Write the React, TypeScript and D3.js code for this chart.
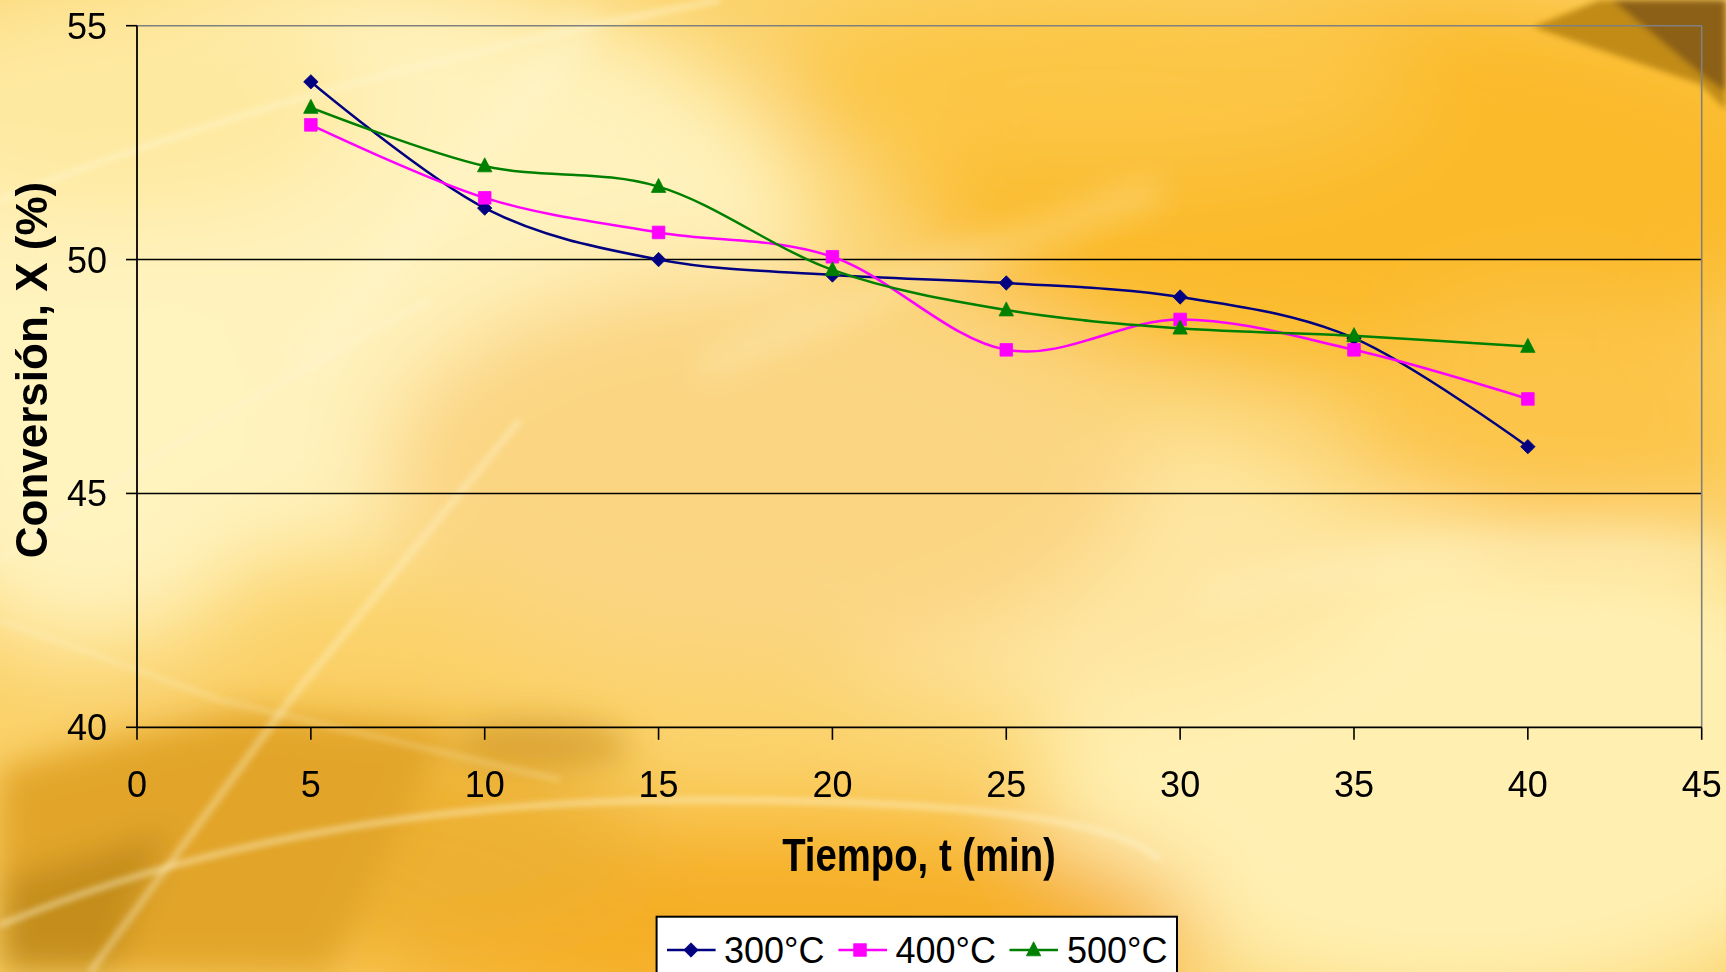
import React from "react";
import * as d3 from "d3";

// Reaction time (min) and conversion (%) for each temperature
const times = [5, 10, 15, 20, 25, 30, 35, 40];
const conv300 = [53.8, 51.1, 50.0, 49.67, 49.5, 49.2, 48.32, 46.0];
const conv400 = [52.88, 51.32, 50.58, 50.06, 48.07, 48.72, 48.07, 47.02];
const conv500 = [53.25, 52.0, 51.56, 49.78, 48.92, 48.53, 48.37, 48.14];

const seriesNames = ["300°C", "400°C", "500°C"];
const seriesColors = ["#000080", "#FF00FF", "#008000"];
const seriesMarkers = ["diamond", "square", "triangle"];

const xTicks = [0, 5, 10, 15, 20, 25, 30, 35, 40, 45];
const yTicks = [40, 45, 50, 55];
const gridValues = [45, 50];

const W = 1726;
const H = 972;
const M = { left: 137, right: 1701.7, top: 25.7, bottom: 727.3 };
const FONT = "'Liberation Sans', Arial, Helvetica, sans-serif";

function markerPath(kind: string): string {
  if (kind === "diamond") return "M0,-7.2L7.2,0L0,7.2L-7.2,0Z";
  if (kind === "square") return "M-6.3,-6.3H6.3V6.3H-6.3Z";
  return "M0,-8.2L7.2,5.8L-7.2,5.8Z";
}

function Background() {
  return (
    <g>
      <defs>
        <filter id="bgBlurBig" x="-50%" y="-50%" width="200%" height="200%">
          <feGaussianBlur stdDeviation="45" />
        </filter>
        <filter id="bgBlurMid" x="-50%" y="-50%" width="200%" height="200%">
          <feGaussianBlur stdDeviation="16" />
        </filter>
        <filter id="bgBlurSmall" x="-20%" y="-20%" width="140%" height="140%">
          <feGaussianBlur stdDeviation="3" />
        </filter>
      </defs>
      <rect x={0} y={0} width={W} height={H} fill="#FBD26A" />
      {/* soft light and warm areas */}
      <g filter="url(#bgBlurBig)">
        <ellipse cx={300} cy={260} rx={520} ry={300} fill="#FFF2BC" />
        <ellipse cx={90} cy={430} rx={200} ry={220} fill="#FFF3BE" />
        <ellipse cx={120} cy={100} rx={240} ry={120} fill="#FEE9A0" />
        <ellipse cx={1460} cy={760} rx={420} ry={250} fill="#FFF0B2" />
        <ellipse cx={1050} cy={560} rx={330} ry={150} fill="#FEE6A2" />
        <ellipse cx={760} cy={470} rx={380} ry={200} fill="#FBD582" />
        <ellipse cx={1380} cy={180} rx={460} ry={190} fill="#FBBA2C" />
        <ellipse cx={1100} cy={80} rx={320} ry={90} fill="#FCC645" />
        <ellipse cx={1560} cy={420} rx={200} ry={120} fill="#FCC548" />
        <ellipse cx={760} cy={930} rx={440} ry={110} fill="#F6AF27" />
        <ellipse cx={330} cy={840} rx={320} ry={110} fill="#EDB032" />
      </g>
      {/* darker golden folds, lower left */}
      <g filter="url(#bgBlurMid)">
        <path d="M0,770 L240,715 L450,730 L330,972 L0,972 Z" fill="#E2A52A" />
        <path d="M0,880 L170,830 L110,972 L0,972 Z" fill="#C58E1E" />
        <ellipse cx={540} cy={745} rx={90} ry={24} fill="#C9901A" opacity={0.6} />
      </g>
      {/* dark corner, top right */}
      <g filter="url(#bgBlurSmall)">
        <path d="M1533,27 L1600,0 L1726,0 L1726,110 L1700,84 Z" fill="#C18B12" />
        <path d="M1612,0 L1726,0 L1726,92 L1702,75 Z" fill="#8C6014" />
      </g>
      {/* pale light streaks */}
      <g filter="url(#bgBlurSmall)" fill="none" stroke="#FFF7D2">
        <path d="M0,925 Q300,800 700,800 T1160,860" strokeWidth={5} opacity={0.6} />
        <path d="M90,972 L290,700 L520,420" strokeWidth={7} opacity={0.4} />
        <path d="M0,620 L220,700 L560,780" strokeWidth={4} opacity={0.35} />
        <path d="M0,200 Q300,80 720,0" strokeWidth={6} opacity={0.5} />
        <path d="M0,560 Q200,420 430,300" strokeWidth={8} opacity={0.35} />
      </g>
      <g filter="url(#bgBlurMid)" fill="none" stroke="#FFF8D6">
        <path d="M300,370 L590,20" strokeWidth={26} opacity={0.45} />
        <path d="M700,370 Q950,260 1160,190" strokeWidth={22} opacity={0.35} />
        <path d="M1200,600 Q1500,520 1726,560" strokeWidth={24} opacity={0.3} />
      </g>
    </g>
  );
}

export default function App() {
  const x = d3.scaleLinear().domain([0, 45]).range([M.left, M.right]);
  const y = d3.scaleLinear().domain([40, 55]).range([M.bottom, M.top]);
  const line = d3
    .line<[number, number]>()
    .x((d) => x(d[0]))
    .y((d) => y(d[1]))
    .curve(d3.curveCardinal.tension(0));

  const series = [conv300, conv400, conv500].map((vals, i) => ({
    name: seriesNames[i],
    color: seriesColors[i],
    marker: seriesMarkers[i],
    points: times.map((t, j) => [t, vals[j]] as [number, number]),
  }));

  const legendItems = [
    { lx1: 667, lx2: 715.6, mx: 691, tx: 724 },
    { lx1: 838.4, lx2: 887, mx: 860, tx: 895.5 },
    { lx1: 1009.5, lx2: 1058, mx: 1033.6, tx: 1067 },
  ];

  return (
    <svg
      width={W}
      height={H}
      viewBox={`0 0 ${W} ${H}`}
      style={{ position: "fixed", left: 0, top: 0, display: "block" }}
      fontFamily={FONT}
    >
      <Background />

      {/* gridlines */}
      {gridValues.map((v) => (
        <line key={v} x1={M.left} x2={M.right} y1={y(v)} y2={y(v)} stroke="#000" strokeWidth={1.6} />
      ))}
      {/* plot frame: top and right in gray */}
      <line x1={M.left} x2={M.right} y1={y(55)} y2={y(55)} stroke="#808080" strokeWidth={1.6} />
      <line x1={M.right} x2={M.right} y1={y(55)} y2={y(40)} stroke="#808080" strokeWidth={1.6} />

      {/* y axis */}
      <line x1={M.left} x2={M.left} y1={y(55)} y2={y(40)} stroke="#000" strokeWidth={1.8} />
      {yTicks.map((v) => (
        <g key={v}>
          <line x1={M.left - 11} x2={M.left} y1={y(v)} y2={y(v)} stroke="#000" strokeWidth={1.6} />
          <text x={107} y={y(v) + 13} textAnchor="end" fontSize={36} fill="#000">
            {v}
          </text>
        </g>
      ))}

      {/* x axis */}
      <line x1={M.left} x2={M.right} y1={y(40)} y2={y(40)} stroke="#000" strokeWidth={1.8} />
      {xTicks.map((v) => (
        <g key={v}>
          <line x1={x(v)} x2={x(v)} y1={y(40)} y2={y(40) + 12.5} stroke="#000" strokeWidth={1.6} />
          <text x={x(v)} y={797} textAnchor="middle" fontSize={36} fill="#000">
            {v}
          </text>
        </g>
      ))}

      {/* axis titles */}
      <text
        transform="translate(919,870.7) scale(0.815,1)"
        textAnchor="middle"
        fontSize={47}
        fontWeight="bold"
        fill="#000"
      >
        Tiempo, t (min)
      </text>
      <text
        transform="translate(47,370) rotate(-90)"
        textAnchor="middle"
        fontSize={44}
        fontWeight="bold"
        fill="#000"
      >
        Conversión, X (%)
      </text>

      {/* series */}
      {series.map((s) => (
        <g key={s.name}>
          <path d={line(s.points) || ""} fill="none" stroke={s.color} strokeWidth={2.5} />
          {s.points.map((p, j) => (
            <path
              key={j}
              d={markerPath(s.marker)}
              transform={`translate(${x(p[0])},${y(p[1])})`}
              fill={s.color}
              stroke={s.color}
              strokeWidth={0.8}
            />
          ))}
        </g>
      ))}

      {/* legend */}
      <g>
        <rect x={656.6} y={916.7} width={520.4} height={80} fill="#FFFFFF" stroke="#000" strokeWidth={2} />
        {series.map((s, i) => {
          const it = legendItems[i];
          return (
            <g key={s.name}>
              <line x1={it.lx1} x2={it.lx2} y1={950} y2={950} stroke={s.color} strokeWidth={2.5} />
              <path
                d={markerPath(s.marker)}
                transform={`translate(${it.mx},950)`}
                fill={s.color}
                stroke={s.color}
                strokeWidth={0.8}
              />
              <text x={it.tx} y={963.3} fontSize={36} fill="#000">
                {s.name}
              </text>
            </g>
          );
        })}
      </g>
    </svg>
  );
}
